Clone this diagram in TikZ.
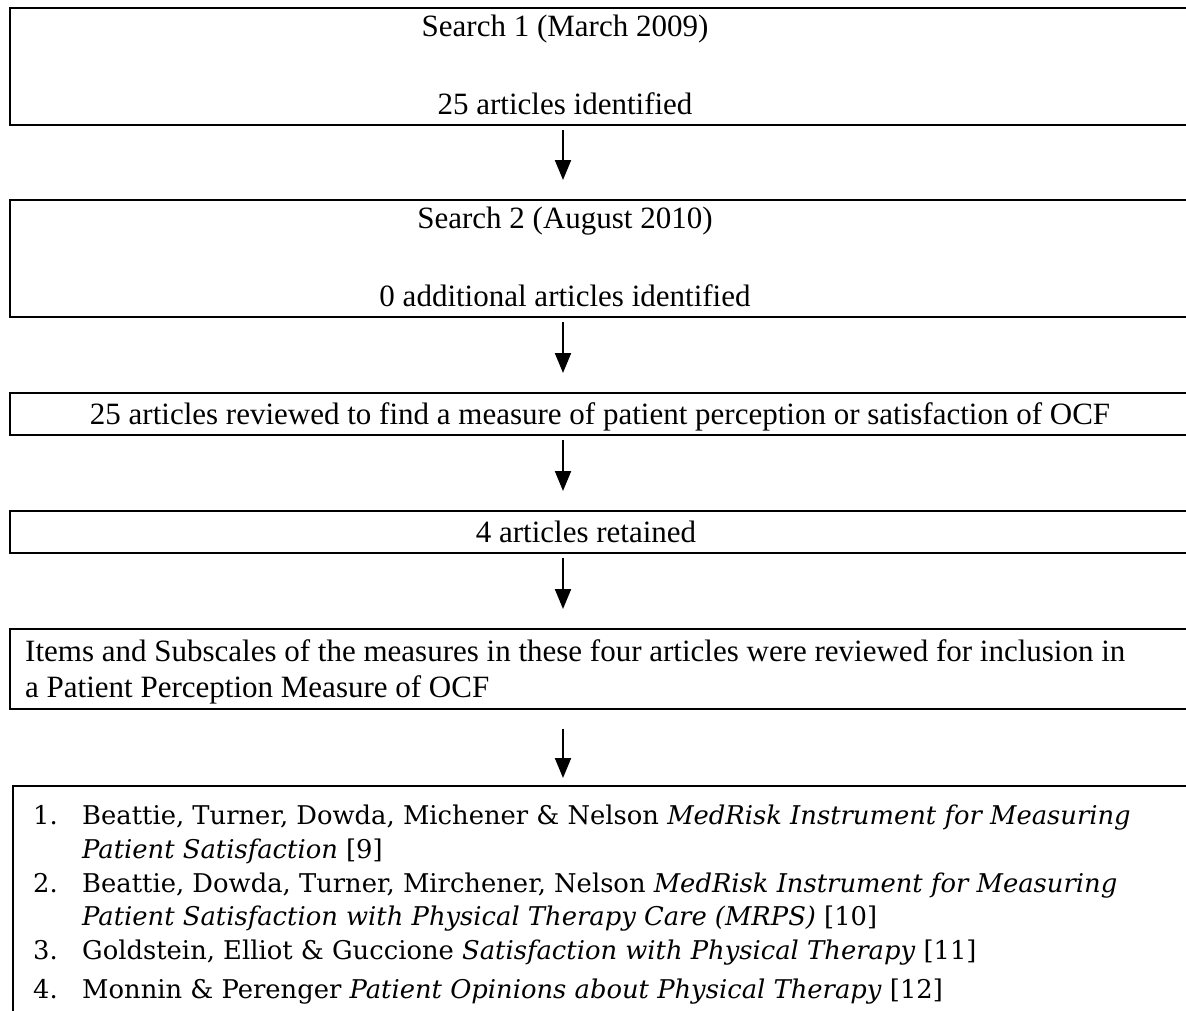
\documentclass[tikz,border=0pt]{standalone}
\usepackage{fontspec}
\setmainfont{Liberation Serif}
\newfontfamily\listfont{DejaVu Serif}
\usetikzlibrary{arrows.meta}

\begin{document}
\begin{tikzpicture}[x=1pt, y=-1pt,
    box/.style={draw, line width=1.8pt, anchor=north west, minimum width=1250pt, inner sep=0pt},
    txt/.style={font=\fontsize{31}{37}\selectfont, anchor=base, inner sep=0pt},
    item/.style={font=\listfont\fontsize{25.8}{31}\selectfont, anchor=base west, inner sep=0pt},
    flow/.style={line width=2pt, -{Triangle[width=16pt, length=20pt]}}]

        \useasboundingbox (0, 0) rectangle (1186, 1010);
        \clip (0, 0) rectangle (1186, 1010);

        \coordinate (ax) at (563, 0);

        % the five boxes of the search
        \node[box, minimum height=117pt] (search1) at (9, 7) {};
        \node[txt] (s1a) at (565, 36) {Search 1 (March 2009)};
        \node[txt] (s1b) at (565, 114) {25 articles identified};

        \node[box, minimum height=117pt] (search2) at (9, 199) {};
        \node[txt] (s2a) at (565, 228) {Search 2 (August 2010)};
        \node[txt] (s2b) at (565, 306) {0 additional articles identified};

        \node[box, minimum height=42pt] (review) at (9, 392) {};
        \node[txt] (rv) at (600, 424) {25 articles reviewed to find a measure of patient perception or satisfaction of OCF};

        \node[box, minimum height=42pt] (retained) at (9, 510) {};
        \node[txt] (rt) at (586, 542) {4 articles retained};

        \node[box, minimum height=80pt] (items) at (9, 628) {};
        \node[txt, anchor=base west] (it1) at (25, 661) {Items and Subscales of the measures in these four articles were reviewed for inclusion in};
        \node[txt, anchor=base west] (it2) at (25, 697) {a Patient Perception Measure of OCF};

        % the list of measures
        \node[box, minimum height=300pt] (measures) at (12, 785) {};
        \node[item] (n1) at (33, 824) {1.};
        \node[item] (m1a) at (82, 824) {Beattie, Turner, Dowda, Michener \& Nelson \textit{MedRisk Instrument for Measuring}};
        \node[item] (m1b) at (82, 858) {\textit{Patient Satisfaction} [9]};
        \node[item] (n2) at (33, 892) {2.};
        \node[item] (m2a) at (82, 892) {Beattie, Dowda, Turner, Mirchener, Nelson \textit{MedRisk Instrument for Measuring}};
        \node[item] (m2b) at (82, 925) {\textit{Patient Satisfaction with Physical Therapy Care (MRPS)} [10]};
        \node[item] (n3) at (33, 959) {3.};
        \node[item] (m3) at (82, 959) {Goldstein, Elliot \& Guccione \textit{Satisfaction with Physical Therapy} [11]};
        \node[item] (n4) at (33, 998) {4.};
        \node[item] (m4) at (82, 998) {Monnin \& Perenger \textit{Patient Opinions about Physical Therapy} [12]};

        % arrows
        \draw[flow, shorten <=4pt, shorten >=19pt] (search1.south -| ax) -- (search2.north -| ax);
        \draw[flow, shorten <=4pt, shorten >=19pt] (search2.south -| ax) -- (review.north -| ax);
        \draw[flow, shorten <=4pt, shorten >=19pt] (review.south -| ax) -- (retained.north -| ax);
        \draw[flow, shorten <=4pt, shorten >=19pt] (retained.south -| ax) -- (items.north -| ax);
        \draw[flow, shorten <=19pt, shorten >=7pt] (items.south -| ax) -- (measures.north -| ax);
    \end{tikzpicture}
\end{document}
